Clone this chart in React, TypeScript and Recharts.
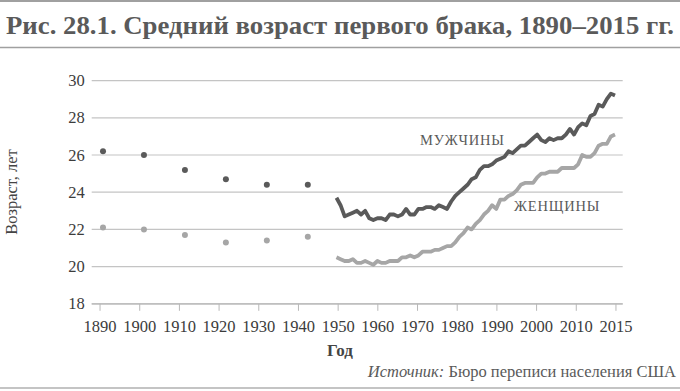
import React from "react";
import { ComposedChart, Line, XAxis, YAxis, CartesianGrid } from "recharts";

const earlyYears = [1890, 1900, 1910, 1920, 1930, 1940];
const earlyMen = [26.2, 26.0, 25.2, 24.7, 24.4, 24.4];
const earlyWomen = [22.1, 22.0, 21.7, 21.3, 21.4, 21.6];

const years = [
  1947, 1948, 1949, 1950, 1951, 1952, 1953, 1954, 1955, 1956, 1957, 1958, 1959,
  1960, 1961, 1962, 1963, 1964, 1965, 1966, 1967, 1968, 1969, 1970, 1971, 1972,
  1973, 1974, 1975, 1976, 1977, 1978, 1979, 1980, 1981, 1982, 1983, 1984, 1985,
  1986, 1987, 1988, 1989, 1990, 1991, 1992, 1993, 1994, 1995, 1996, 1997, 1998,
  1999, 2000, 2001, 2002, 2003, 2004, 2005, 2006, 2007, 2008, 2009, 2010, 2011,
  2012, 2013, 2014, 2015,
];
const men = [
  23.7, 23.3, 22.7, 22.8, 22.9, 23.0, 22.8, 23.0, 22.6, 22.5, 22.6, 22.6, 22.5,
  22.8, 22.8, 22.7, 22.8, 23.1, 22.8, 22.8, 23.1, 23.1, 23.2, 23.2, 23.1, 23.3,
  23.2, 23.1, 23.5, 23.8, 24.0, 24.2, 24.4, 24.7, 24.8, 25.2, 25.4, 25.4, 25.5,
  25.7, 25.8, 25.9, 26.2, 26.1, 26.3, 26.5, 26.5, 26.7, 26.9, 27.1, 26.8, 26.7,
  26.9, 26.8, 26.9, 26.9, 27.1, 27.4, 27.1, 27.5, 27.7, 27.6, 28.1, 28.2, 28.7,
  28.6, 29.0, 29.3, 29.2,
];
const women = [
  20.5, 20.4, 20.3, 20.3, 20.4, 20.2, 20.2, 20.3, 20.2, 20.1, 20.3, 20.2, 20.2,
  20.3, 20.3, 20.3, 20.5, 20.5, 20.6, 20.5, 20.6, 20.8, 20.8, 20.8, 20.9, 20.9,
  21.0, 21.1, 21.1, 21.3, 21.6, 21.8, 22.1, 22.0, 22.3, 22.5, 22.8, 23.0, 23.3,
  23.1, 23.6, 23.6, 23.8, 23.9, 24.1, 24.4, 24.5, 24.5, 24.5, 24.8, 25.0, 25.0,
  25.1, 25.1, 25.1, 25.3, 25.3, 25.3, 25.3, 25.5, 26.0, 25.9, 25.9, 26.1, 26.5,
  26.6, 26.6, 27.0, 27.1,
];

const tickLabels = [
  "1890", "1900", "1910", "1920", "1930", "1940", "1950", "1960", "1970",
  "1980", "1990", "2000", "2010", "2015",
];
const yTicks = [18, 20, 22, 24, 26, 28, 30];

const data = [
  ...earlyYears.map((y, i) => ({ year: y, menEarly: earlyMen[i], womenEarly: earlyWomen[i] })),
  ...years.map((y, i) => ({ year: y, men: men[i], women: women[i] })),
];

const GRAY = "#5a5a5a";
const FONT = "'Liberation Serif', serif";

const XTick = (props: any) => {
  const { x, y, payload } = props;
  return (
    <text x={x} y={y} dy={12} textAnchor="middle" fontSize={16.5} fill="#3c3c3c"
      style={{ fontFamily: FONT }}>
      {tickLabels[payload.value]}
    </text>
  );
};

const YTick = (props: any) => {
  const { x, y, payload } = props;
  return (
    <text x={x} y={y} dy={5.5} textAnchor="end" fontSize={16.5} fill="#3c3c3c"
      style={{ fontFamily: FONT }}>
      {payload.value}
    </text>
  );
};

export default function App() {
  return (
    <div style={{ position: "absolute", left: 0, top: 0, width: 680, height: 391, background: "#fff", fontFamily: FONT }}>
      <ComposedChart
        width={680}
        height={391}
        data={data}
        margin={{ top: 80.6, right: 57.3, bottom: 57.2, left: 41.7 }}
      >
        <CartesianGrid vertical={false} stroke="#c4c4c4" strokeWidth={1.2} />
        <XAxis
          xAxisId="data"
          dataKey="year"
          type="number"
          domain={[1887.24, 2016.88]}
          allowDataOverflow
          height={0}
          hide
        />
        <XAxis
          xAxisId="t"
          dataKey="tickSlot"
          type="number"
          domain={[-0.21, 13.17]}
          ticks={tickLabels.map((_, i) => i)}
          allowDataOverflow
          interval={0}
          height={30}
          tickSize={7}
          tickMargin={9}
          axisLine={{ stroke: "#b8b8b8", strokeWidth: 1.2 }}
          tickLine={{ stroke: "#b8b8b8" }}
          tick={<XTick />}
        />
        <YAxis
          domain={[18, 30]}
          ticks={yTicks}
          width={50}
          axisLine={false}
          tickLine={false}
          tickMargin={1}
          tick={<YTick />}
        />
        <Line xAxisId="data" dataKey="menEarly" stroke="none" isAnimationActive={false}
          dot={{ r: 3, fill: GRAY, stroke: "none" }} activeDot={false} />
        <Line xAxisId="data" dataKey="womenEarly" stroke="none" isAnimationActive={false}
          dot={{ r: 3, fill: "#a6a6a6", stroke: "none" }} activeDot={false} />
        <Line xAxisId="data" dataKey="women" stroke="#a6a6a6" strokeWidth={3.8} dot={false}
          strokeLinejoin="round" isAnimationActive={false} />
        <Line xAxisId="data" dataKey="men" stroke={GRAY} strokeWidth={3.8} dot={false}
          strokeLinejoin="round" isAnimationActive={false} />
      </ComposedChart>
      <svg width={680} height={391} style={{ position: "absolute", left: 0, top: 0, pointerEvents: "none" }}>
        <line x1={0} x2={680} y1={1} y2={1} stroke="#a0a0a0" strokeWidth={2} />
        <line x1={0} x2={680} y1={47.5} y2={47.5} stroke="#a0a0a0" strokeWidth={1.5} />
        <text x={6} y={34} fontSize={26} fontWeight="bold" fill={GRAY} fontFamily={FONT}
          textLength={668} lengthAdjust="spacingAndGlyphs">
          Рис. 28.1. Средний возраст первого брака, 1890–2015 гг.
        </text>
        <text x={420} y={145} fontSize={14.5} letterSpacing={0.8} fill={GRAY} fontFamily={FONT}>МУЖЧИНЫ</text>
        <text x={514} y={211} fontSize={14.5} letterSpacing={0.8} fill={GRAY} fontFamily={FONT}>ЖЕНЩИНЫ</text>
        <text transform="translate(17,192) rotate(-90)" textAnchor="middle" fontSize={16.5} fill="#444" fontFamily={FONT}>
          Возраст, лет
        </text>
        <text x={340} y={356} textAnchor="middle" fontSize={17} fontWeight="bold" fill="#444" fontFamily={FONT}>Год</text>
        <text x={676} y={377} textAnchor="end" fontSize={16.5} fill={GRAY} fontFamily={FONT}>
          <tspan fontStyle="italic">Источник:</tspan> Бюро переписи населения США
        </text>
        <line x1={0} x2={680} y1={388} y2={388} stroke="#b0b0b0" strokeWidth={1.5} />
      </svg>
    </div>
  );
}
